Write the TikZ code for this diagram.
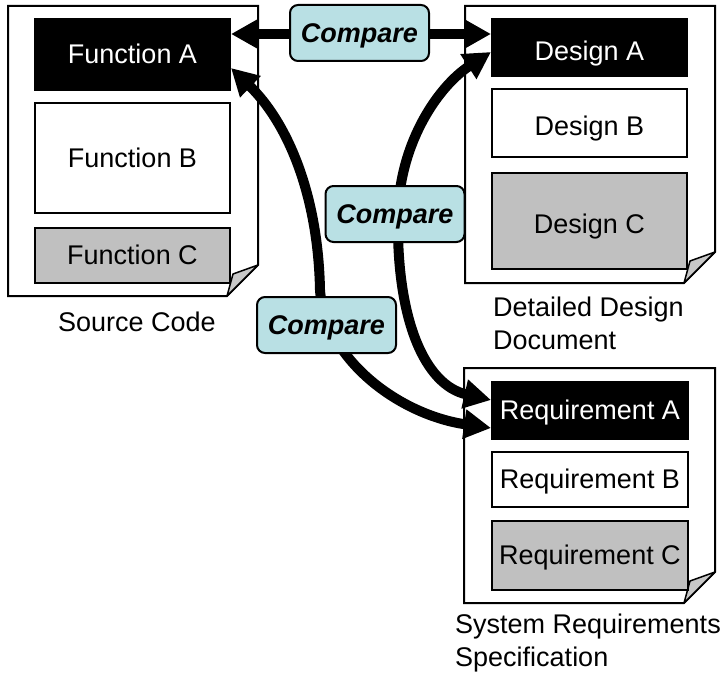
\documentclass[tikz,border=0pt]{standalone}
\usepackage{fontspec}
\setmainfont{Liberation Sans}
\usetikzlibrary{arrows.meta,calc}

\definecolor{cmpfill}{RGB}{185,224,228}
\definecolor{boxgray}{RGB}{192,192,192}
\definecolor{foldgray}{RGB}{200,200,200}

% A sheet of paper with a dog-eared lower right corner: #1,#2 top left, #3,#4 bottom right
\newcommand\docsheet[4]{%
  \draw[sheet] (#1,#2) -- (#3,#2) -- (#3,#4-31) -- (#3-31,#4) -- (#1,#4) -- cycle;
  \draw[fold] (#3,#4-31) -- (#3-25,#4-22) -- (#3-31,#4) -- cycle;
}

\begin{document}
\begin{tikzpicture}[
  x=1pt, y=-1pt,
  font=\fontsize{27}{33}\selectfont,
  >={Triangle[length=27pt,width=28pt]},
  sheet/.style={draw, line width=2pt, fill=white, line join=miter},
  fold/.style={draw, line width=1.5pt, fill=foldgray, line join=round},
  blk/.style={draw, line width=2pt, inner sep=0pt, text height=18.6pt, text depth=0pt, minimum width=195pt},
  lowtext/.style={text height=25.6pt},
  dark/.style={blk, fill=black, text=white},
  plain/.style={blk, fill=white},
  shade/.style={blk, fill=boxgray},
  cmp/.style={draw, line width=2pt, fill=cmpfill, rounded corners=8pt,
    minimum width=139pt, minimum height=56pt, inner sep=0pt,
    font=\fontsize{27}{33}\selectfont\bfseries\itshape, text height=18.6pt, text depth=0pt},
  link/.style={line width=10pt, <->},
  caption/.style={inner sep=0pt, align=left}
]
\useasboundingbox (0,0) rectangle (727,679);

% the three documents
\docsheet{8}{6}{258}{296}
\docsheet{465}{6}{715}{283}
\docsheet{464}{368}{715}{603}

% source code
\node[dark,  minimum height=71pt]  (fa) at (132.5,54.5)  {Function A};
\node[plain, minimum height=110pt] (fb) at (132.5,158)   {Function B};
\node[shade, minimum height=55pt]  (fc) at (132.5,255.5) {Function C};

% detailed design document
\node[dark,  lowtext, minimum height=57pt] (da) at (589.5,47.5) {Design A};
\node[plain, lowtext, minimum height=68pt] (db) at (589.5,123)  {Design B};
\node[shade, lowtext, minimum height=96pt] (dc) at (589.5,221)  {Design C};

% system requirements specification
\node[dark,  minimum height=57pt, minimum width=196pt] (ra) at (590,410.5) {Requirement A};
\node[plain, minimum height=55pt, minimum width=196pt] (rb) at (590,479.5) {Requirement B};
\node[shade, minimum height=69pt, minimum width=196pt] (rc) at (590,555.5) {Requirement C};

% captions
\node[caption, anchor=north, text height=18.6pt, text depth=0pt] (srclbl) at (137,313) {Source Code};
\node[caption, anchor=north west] (ddlbl) at (493,297) {Detailed Design\\Document};
\node[caption, anchor=north west] (srlbl) at (455,614) {System Requirements\\Specification};

% comparison links
\draw[link] ($(fa.east)+(0,-20.5)$) -- ($(da.west)+(0,-13.5)$);
\draw[link] ($(fa.east)+(0,13.5)$) .. controls (285,120) and (318,190) .. (320,290)
  .. controls (325,360) and (400,415) .. ($(ra.west)+(0,17.5)$);
\draw[link] ($(da.west)+(0,4.5)$) .. controls (440,85) and (400,140) .. (398,214)
  .. controls (396,320) and (425,385) .. ($(ra.west)+(0,-10.5)$);

% comparison labels
\node[cmp] (c1) at (359.5,33)  {Compare};
\node[cmp] (c2) at (395,214)   {Compare};
\node[cmp] (c3) at (326.5,325) {Compare};
\end{tikzpicture}
\end{document}
